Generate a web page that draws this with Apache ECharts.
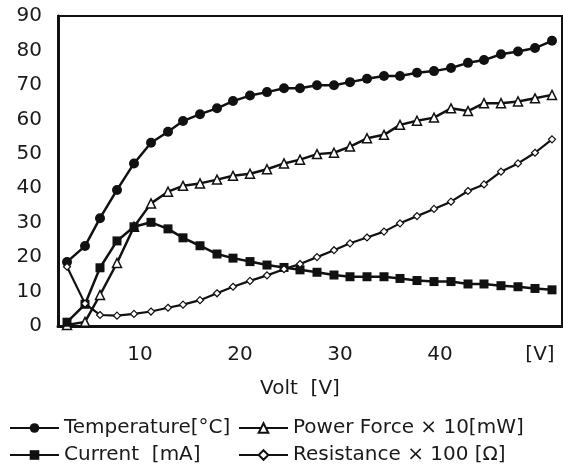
<!DOCTYPE html>
<html>
<head>
<meta charset="utf-8">
<script src="https://cdn.jsdelivr.net/npm/echarts@6/dist/echarts.min.js"></script>
<style>
	html, body { margin: 0; padding: 0; background: #fff; }
	#chart { width: 563px; height: 464px; }
</style>
</head>
<body>
<div id="chart"></div>
<script>
	// 電圧 [V]
	var volts = [2.7, 4.5, 6.0, 7.7, 9.4, 11.1, 12.8, 14.3, 16.0, 17.7, 19.3, 21.0, 22.7, 24.4, 26.0,
		27.7, 29.4, 31.0, 32.7, 34.4, 36.0, 37.7, 39.4, 41.1, 42.8, 44.4, 46.1, 47.8, 49.5, 51.2];
	var temperature = [18.6, 23.2, 31.3, 39.5, 47.2, 53.2, 56.4, 59.5, 61.5, 63.2, 65.3, 66.9, 67.9, 69.0, 69.0,
		69.9, 69.9, 70.8, 71.8, 72.6, 72.6, 73.5, 74.0, 74.9, 76.4, 77.2, 78.9, 79.7, 80.7, 82.8];
	var current = [1.1, 6.3, 16.9, 24.7, 28.8, 30.1, 28.2, 25.6, 23.3, 20.9, 19.7, 18.7, 17.7, 17.0, 16.3,
		15.6, 14.8, 14.3, 14.3, 14.3, 13.8, 13.2, 12.9, 12.9, 12.2, 12.2, 11.7, 11.4, 10.9, 10.5];
	var power = [0.3, 1.2, 9.0, 18.3, 28.8, 35.6, 39.0, 40.7, 41.4, 42.5, 43.6, 44.2, 45.5, 47.2, 48.3,
		49.9, 50.3, 52.1, 54.5, 55.5, 58.4, 59.6, 60.5, 63.2, 62.4, 64.7, 64.7, 65.2, 66.1, 67.1];
	var resistance = [17.2, 6.5, 3.2, 3.0, 3.5, 4.2, 5.3, 6.2, 7.5, 9.5, 11.4, 13.1, 14.7, 16.5, 18.0,
		20.0, 22.0, 24.0, 25.7, 27.4, 29.8, 31.9, 34.0, 36.1, 39.2, 41.1, 44.8, 47.2, 50.3, 54.2];
	var xTicks = [10, 20, 30, 40, 50];
	var names = ['Temperature[°C]', 'Power Force × 10[mW]', 'Current  [mA]', 'Resistance × 100 [Ω]'];

	var FONT = 'DejaVu Sans';

	function pairs(ys) {
		var out = [];
		for (var i = 0; i < volts.length; i++) {
			out.push([volts[i], ys[i]]);
		}
		return out;
	}

	function legendAt(name, left, top) {
		return {
			"data": [name],
			"left": left,
			"top": top,
			"padding": 0,
			"itemWidth": 49,
			"itemHeight": 12,
			"itemGap": 0,
			"selectedMode": false,
			"textStyle": {
				"fontFamily": FONT,
				"fontSize": 20,
				"color": "#1a1a1a"
			}
		};
	}

	var option = {
		"backgroundColor": "#fff",
		"animation": false,
		"grid": {
			"left": 58,
			"right": 1,
			"top": 16,
			"bottom": 138,
			"show": true,
			"borderColor": "#111",
			"borderWidth": 2
		},
		"legend": [
			legendAt(names[0], 9, 418),
			legendAt(names[1], 238, 418),
			legendAt(names[2], 9, 445),
			legendAt(names[3], 238, 445)
		],
		"xAxis": {
			"type": "value",
			"min": 1.8,
			"max": 52.2,
			"name": "Volt  [V]",
			"nameLocation": "middle",
			"nameGap": 53,
			"nameTextStyle": {
				"fontFamily": FONT,
				"fontSize": 20,
				"color": "#1a1a1a",
				"padding": [0, 20, 0, 0]
			},
			"axisLine": {
				"lineStyle": { "color": "#111", "width": 3 }
			},
			"axisTick": { "show": false },
			"splitLine": { "show": false },
			"axisLabel": {
				"customValues": xTicks,
				"margin": 19,
				"fontFamily": FONT,
				"fontSize": 20,
				"color": "#1a1a1a",
				"formatter": function(v) {
					return v === 50 ? '[V]' : String(v);
				}
			}
		},
		"yAxis": {
			"type": "value",
			"min": 0,
			"max": 90,
			"interval": 10,
			"axisLine": {
				"show": true,
				"lineStyle": { "color": "#111", "width": 3 }
			},
			"axisTick": { "show": false },
			"splitLine": { "show": false },
			"axisLabel": {
				"margin": 16,
				"fontFamily": FONT,
				"fontSize": 20,
				"color": "#1a1a1a",
				"padding": [10, 0, 0, 0]
			}
		},
		"series": [{
			"name": names[0],
			"type": "line",
			"data": pairs(temperature),
			"symbol": "circle",
			"symbolSize": 10,
			"itemStyle": { "color": "#111" },
			"lineStyle": { "color": "#111", "width": 2.5 }
		}, {
			"name": names[1],
			"type": "line",
			"data": pairs(power),
			"symbol": "triangle",
			"symbolSize": 9,
			"itemStyle": { "color": "#fff", "borderColor": "#111", "borderWidth": 1.5 },
			"lineStyle": { "color": "#111", "width": 2.5 }
		}, {
			"name": names[2],
			"type": "line",
			"data": pairs(current),
			"symbol": "rect",
			"symbolSize": 9,
			"itemStyle": { "color": "#111" },
			"lineStyle": { "color": "#111", "width": 2.5 }
		}, {
			"name": names[3],
			"type": "line",
			"data": pairs(resistance),
			"symbol": "diamond",
			"symbolSize": 7,
			"itemStyle": { "color": "#fff", "borderColor": "#111", "borderWidth": 1.2 },
			"lineStyle": { "color": "#111", "width": 2.2 }
		}]
	};

	var chart = echarts.init(document.getElementById('chart'));
	chart.setOption(option);
</script>
</body>
</html>
